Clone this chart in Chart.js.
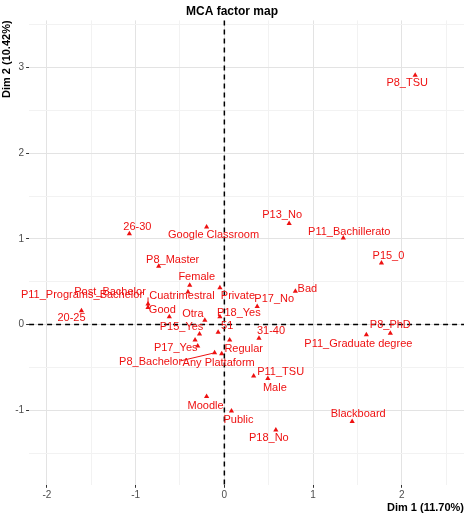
<!DOCTYPE html><html><head><script src="https://cdn.jsdelivr.net/npm/chart.js"></script>
<style>body{margin:0;background:#fff}#w{width:474px;height:517px}</style></head><body><div id="w"><canvas id="c"></canvas></div><script>
const labels=["P8_TSU","P13_No","P11_Bachillerato","P15_0","Bad","P17_No","P18_Yes","Private","Female","Cuatrimestral","26-30","Google Classroom","P8_Master","Good","20-25","P11_Programs_Bachelor","Post_Bachelor","Otra","51","P15_Yes","P17_Yes","P8_Bachelor","Any Plattaform","Regular","31-40","P11_TSU","Male","Moodle","Public","P18_No","Blackboard","P11_Graduate degree","P8_PhD","P15_No2"];
const dim1=[2.15,0.73,1.34,1.77,0.80,0.37,-0.05,-0.05,-0.39,-0.41,-1.07,-0.20,-0.74,-0.62,-1.61,-0.86,-0.86,-0.22,-0.07,-0.28,-0.30,-0.11,-0.03,0.06,0.39,0.33,0.49,-0.20,0.08,0.58,1.44,1.60,1.87,-0.33];
const dim2=[2.91,1.18,1.01,0.72,0.39,0.21,0.09,0.43,0.46,0.38,1.06,1.14,0.68,0.09,0.16,0.20,0.24,0.05,-0.09,-0.11,-0.25,-0.33,-0.34,-0.18,-0.16,-0.60,-0.63,-0.84,-1.01,-1.23,-1.13,-0.12,-0.10,-0.18];
const textShown=labels.map(l=>l==="P15_No2"?"":l);
const off={"P8_TSU":[-8,8],"P13_No":[-7,-8],"P11_Bachillerato":[6,-6],"P15_0":[7,-7],"Bad":[12,-2],"P17_No":[17,-8],"P18_Yes":[19,-4],"Private":[18,8],"Female":[7,-8],"Cuatrimestral":[-6,4],"26-30":[8,-7],"Google Classroom":[7,8],"P8_Master":[14,-6],"Good":[-7,-7],"20-25":[-10,7],"P11_Programs_Bachelor":[-66,-12],"Post_Bachelor":[-38,-12],"Otra":[-12,-6],"51":[9,-6],"P15_Yes":[-18,-7],"P17_Yes":[-22,2],"P8_Bachelor":[-64,9],"Any Plattaform":[-3,9],"Regular":[14,9],"31-40":[12,-7],"P11_TSU":[27,-4],"Male":[7,9],"Moodle":[-1,9],"Public":[7,9],"P18_No":[-7,8],"Blackboard":[6,-7],"P11_Graduate degree":[-8,9],"P8_PhD":[0,-8]};
const red="#ee1111";
const plug={id:"p",afterDatasetsDraw(ch){const c=ch.ctx,x=ch.scales.x,y=ch.scales.y,a=ch.chartArea;c.save();
c.strokeStyle="#000";c.lineWidth=1.5;c.setLineDash([5,4]);
let px=x.getPixelForValue(0),py=y.getPixelForValue(0);c.beginPath();c.moveTo(px,a.top);c.lineTo(px,a.bottom);c.moveTo(a.left,py);c.lineTo(a.right,py);c.stroke();c.setLineDash([]);
c.font="11px 'Liberation Sans', Arial";c.fillStyle=red;c.textAlign="center";c.textBaseline="middle";
labels.forEach((l,i)=>{const t=textShown[i];if(!t)return;const o=off[l]||[0,-10];c.fillText(t,x.getPixelForValue(dim1[i])+o[0],y.getPixelForValue(dim2[i])+o[1]);});
c.strokeStyle=red;c.lineWidth=1;c.beginPath();
let bx=x.getPixelForValue(dim1[15]),by=y.getPixelForValue(dim2[15]);c.moveTo(bx,by);c.lineTo(bx,by-10);
let qx=x.getPixelForValue(dim1[21]),qy=y.getPixelForValue(dim2[21]);c.moveTo(qx,qy);c.lineTo(qx-34,qy+8);c.stroke();
c.restore();}};
const isI=ctx=>Number.isInteger(ctx.tick.value);
const gc=ctx=>isI(ctx)?"#e3e3e3":"#f2f2f2";
const tc=ctx=>isI(ctx)?"#333":"rgba(0,0,0,0)";
new Chart(document.getElementById("c"),{type:"scatter",data:{datasets:[{data:dim1.map((v,i)=>({x:v,y:dim2[i]})),pointStyle:"triangle",pointRadius:3,backgroundColor:red,borderColor:red,borderWidth:0}]},
options:{responsive:true,maintainAspectRatio:false,animation:false,layout:{padding:{right:10,top:0,left:0,bottom:0}},
plugins:{legend:{display:false},tooltip:{enabled:false},title:{display:true,text:"MCA factor map",font:{size:12,weight:"bold",family:"Liberation Sans"},color:"#000",padding:{top:4,bottom:2}}},
scales:{x:{min:-2.2,max:2.7,afterBuildTicks:s=>{s.ticks=[-2,-1.5,-1,-0.5,0,0.5,1,1.5,2,2.5].map(v=>({value:v}))},ticks:{color:"#4d4d4d",font:{size:10},padding:1,callback:v=>Number.isInteger(v)?v:"",maxRotation:0,autoSkip:false},grid:{color:gc,tickColor:tc,tickLength:3},border:{display:false},title:{display:true,text:"Dim 1 (11.70%)",font:{size:11,weight:"bold"},color:"#000",align:"end",padding:{top:0,bottom:2}}},
y:{min:-1.87,max:3.55,afterBuildTicks:s=>{s.ticks=[-1.5,-1,-0.5,0,0.5,1,1.5,2,2.5,3,3.5].map(v=>({value:v}))},ticks:{color:"#4d4d4d",font:{size:10},padding:2,callback:v=>Number.isInteger(v)?v:"",autoSkip:false},grid:{color:gc,tickColor:tc,tickLength:3},border:{display:false},title:{display:true,text:"Dim 2 (10.42%)",font:{size:11,weight:"bold"},color:"#000",align:"end",padding:{top:0,bottom:0}}}}},plugins:[plug]});
</script></body></html>
